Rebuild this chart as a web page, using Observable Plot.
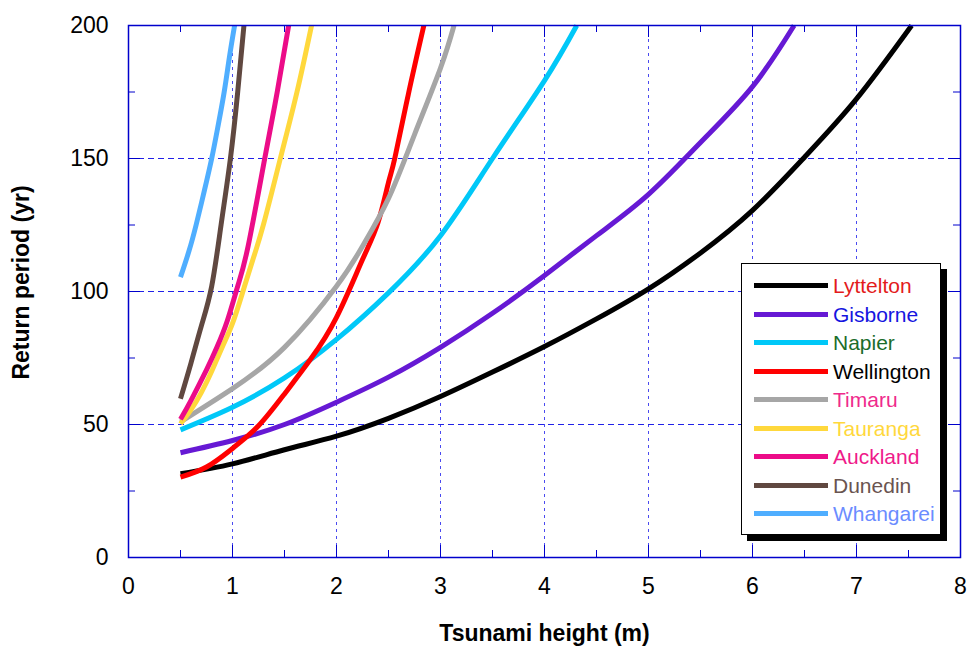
<!DOCTYPE html>
<html>
<head>
<meta charset="utf-8">
<script src="https://cdn.jsdelivr.net/npm/d3@7"></script>
<script src="https://cdn.jsdelivr.net/npm/@observablehq/plot@0.6"></script>
<style>
  html, body { margin: 0; padding: 0; background: #fff; }
  #wrap { position: relative; width: 968px; height: 646px; font-family: "Liberation Sans", Arial, sans-serif; }
  #legend { position: absolute; left: 741px; top: 263px; width: 200px; height: 272px; background: #fff;
            border: 1.5px solid #000; box-shadow: 6px 6px 0 #000; box-sizing: border-box; }
  .item { position: absolute; left: 12px; height: 28px; display: flex; align-items: center; }
  .swatch { width: 74px; height: 5px; margin-right: 5px; }
  .label { font-size: 21px; line-height: 1; }
</style>
</head>
<body>
<div id="wrap"><div id="chart"></div><div id="legend"></div></div>
<script>
// Series names, colours, legend text colours
const names = ["Lyttelton","Gisborne","Napier","Wellington","Timaru","Tauranga","Auckland","Dunedin","Whangarei"];
const lineColors = ["#000000","#6619d4","#00c8f8","#ff0000","#a6a6a6","#ffd83c","#ec0c88","#604840","#4faeff"];
const textColors = ["#e31b1b","#1515e0","#1b6d2b","#000000","#ef2a8c","#ffd83c","#ef1a8a","#6a5450","#6b8cff"];

// Tsunami height (m) and return period (yr) for each port
const lytteltonH = [0.5, 1, 1.5, 2, 2.5, 3, 3.5, 4, 4.5, 5, 5.5, 6, 6.5, 7, 7.53];
const lytteltonT = [31.5, 35.2, 40.5, 45.6, 52.3, 60.5, 69.7, 79.3, 89.7, 101, 114.5, 130.5, 150.5, 172.4, 200];
const gisborneH = [0.5, 1, 1.5, 2, 2.5, 3, 3.5, 4, 4.5, 5, 5.5, 6, 6.4];
const gisborneT = [39.4, 44, 50, 58.4, 67.8, 79, 91.8, 106, 121, 136.5, 156, 177, 200];
const napierH = [0.5, 1, 1.5, 2, 2.5, 3, 3.5, 4, 4.31];
const napierT = [48, 56.5, 67.5, 82, 99.5, 121, 150, 179.3, 200];
const wellingtonH = [0.5, 0.75, 1, 1.25, 1.5, 1.75, 2, 2.25, 2.4, 2.5, 2.56, 2.69, 2.84];
const wellingtonT = [30.2, 34, 41, 49.5, 61.5, 74.5, 90.3, 112, 126, 141, 150, 174, 200];
const timaruH = [0.5, 1, 1.5, 2, 2.25, 2.5, 2.75, 3, 3.13];
const timaruT = [51, 63.5, 79, 102, 117, 135, 159, 184, 200];
const taurangaH = [0.5, 0.6, 0.7, 0.8, 0.9, 1, 1.1, 1.2, 1.3, 1.46, 1.62, 1.76];
const taurangaT = [50.3, 55.5, 62, 70, 79, 88, 100, 112.5, 125.5, 150, 175, 200];
const aucklandH = [0.5, 0.6, 0.75, 0.85, 0.95, 1.05, 1.15, 1.31, 1.43, 1.54];
const aucklandT = [52, 59, 70.5, 79, 89, 102, 117, 150, 175, 200];
const dunedinH = [0.5, 0.6, 0.7, 0.8, 0.89, 0.98, 1.05, 1.11];
const dunedinT = [59.7, 73, 87, 102, 125, 150, 175, 200];
const whangareiH = [0.5, 0.58, 0.65, 0.73, 0.8, 0.86, 0.92, 0.97, 1.02];
const whangareiT = [105.4, 115, 125, 138, 150, 162, 175, 188, 200];

// Axis ticks
const xTicks = [0, 1, 2, 3, 4, 5, 6, 7, 8];
const yTicks = [0, 50, 100, 150, 200];
const xMinor = [0.5, 1.5, 2.5, 3.5, 4.5, 5.5, 6.5, 7.5];
const yMinor = [25, 75, 125, 175];
const xGrid = [1, 2, 3, 4, 5, 6, 7];
const yGrid = [50, 100, 150];
const xLabel = "Tsunami height (m)";
const yLabel = "Return period (yr)";

const seriesH = [lytteltonH, gisborneH, napierH, wellingtonH, timaruH, taurangaH, aucklandH, dunedinH, whangareiH];
const seriesT = [lytteltonT, gisborneT, napierT, wellingtonT, timaruT, taurangaT, aucklandT, dunedinT, whangareiT];
const rows = [];
names.forEach((n, i) => seriesH[i].forEach((h, j) => rows.push({name: n, h, t: seriesT[i][j]})));

const W = 968, H = 646, mL = 128, mR = 8, mT = 25, mB = 89;
const fw = W - mL - mR, fh = H - mT - mB;
const axisBlue = "#0000cc";

const chart = Plot.plot({
  width: W, height: H,
  marginLeft: mL, marginRight: mR, marginTop: mT, marginBottom: mB,
  style: {fontFamily: "'Liberation Sans', Arial, sans-serif", background: "#fff", color: "#000"},
  x: {domain: [0, 8]},
  y: {domain: [0, 200]},
  color: {domain: names, range: lineColors},
  marks: [
    Plot.ruleX(xGrid, {x: d => d, stroke: "#4a4af0", strokeWidth: 1, strokeDasharray: "3,4"}),
    Plot.ruleY(yGrid, {y: d => d, stroke: "#2020e8", strokeWidth: 1, strokeDasharray: "6,4"}),
    // minor ticks, inward on all four sides
    Plot.tickX(xMinor, {x: d => d, insetTop: fh - 7, stroke: axisBlue}),
    Plot.tickX(xMinor, {x: d => d, insetBottom: fh - 7, stroke: axisBlue}),
    Plot.tickY(yMinor, {y: d => d, insetRight: fw - 7, stroke: axisBlue}),
    Plot.tickY(yMinor, {y: d => d, insetLeft: fw - 7, stroke: axisBlue}),
    // major ticks
    Plot.tickX(xTicks, {x: d => d, insetTop: fh - 12, stroke: axisBlue}),
    Plot.tickX(xTicks, {x: d => d, insetBottom: fh - 12, stroke: axisBlue}),
    Plot.tickY(yTicks, {y: d => d, insetRight: fw - 12, stroke: axisBlue}),
    Plot.tickY(yTicks, {y: d => d, insetLeft: fw - 12, stroke: axisBlue}),
    Plot.line(rows, {x: "h", y: "t", z: "name", stroke: "name", strokeWidth: 5, curve: "natural", strokeLinecap: "butt"}),
    Plot.frame({stroke: axisBlue, strokeWidth: 1.5}),
    Plot.axisX(xTicks, {tickSize: 0, tickPadding: 20, fontSize: 23, label: null}),
    Plot.axisY(yTicks, {tickSize: 0, tickPadding: 20, fontSize: 23, label: null}),
    Plot.text([yLabel], {frameAnchor: "left", dx: -107, dy: -9, rotate: -90, textAnchor: "middle", lineAnchor: "middle", fontSize: 23, fontWeight: "bold", text: d => d}),
    Plot.text([xLabel], {frameAnchor: "bottom", dy: 76, textAnchor: "middle", lineAnchor: "middle", fontSize: 23, fontWeight: "bold", text: d => d})
  ]
});
document.getElementById("chart").appendChild(chart);

// Legend
const legend = document.getElementById("legend");
names.forEach((n, i) => {
  const it = document.createElement("div");
  it.className = "item";
  it.style.top = (7.5 + i * 28.5) + "px";
  const sw = document.createElement("div");
  sw.className = "swatch";
  sw.style.background = lineColors[i];
  const lb = document.createElement("span");
  lb.className = "label";
  lb.style.color = textColors[i];
  lb.textContent = n;
  it.appendChild(sw); it.appendChild(lb);
  legend.appendChild(it);
});
</script>
</body>
</html>
